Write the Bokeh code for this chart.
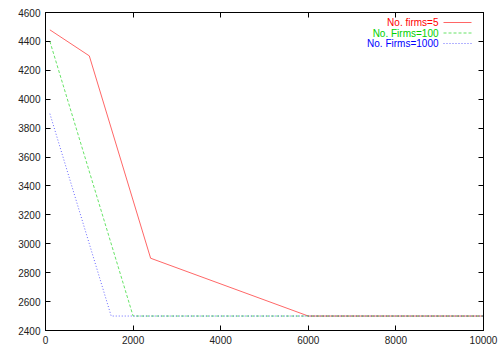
from bokeh.plotting import figure
from bokeh.models import LinearAxis, FixedTicker, Label, Arrow, Range1d
from bokeh.embed import file_html
from bokeh.resources import INLINE

# Data
x_firms5 = [100, 1000, 2400, 6000, 10000]
y_firms5 = [4480, 4300, 2900, 2500, 2500]
x_firms100 = [100, 2000, 10000]
y_firms100 = [4400, 2500, 2500]
x_firms1000 = [100, 1500, 10000]
y_firms1000 = [3900, 2500, 2500]
labels = ["No. firms=5", "No. Firms=100", "No. Firms=1000"]
colors = ["#ff0000", "#00d000", "#0000ff"]
dashes = ["solid", "3 2", "1 2"]
x_ticks = [0, 2000, 4000, 6000, 8000, 10000]
y_ticks = [2400, 2600, 2800, 3000, 3200, 3400, 3600, 3800, 4000, 4200, 4400, 4600]

FONT = "Liberation Sans"

p = figure(width=500, height=350, output_backend="svg", toolbar_location=None,
           x_range=Range1d(0, 10000), y_range=Range1d(2400, 4600),
           min_border_left=45, min_border_right=17, min_border_top=12, min_border_bottom=20)
p.background_fill_color = "white"
p.border_fill_color = "white"
p.outline_line_color = "black"
p.outline_line_width = 1
p.xgrid.visible = False
p.ygrid.visible = False

def style_axis(ax, ticks, show_labels=True):
    ax.ticker = FixedTicker(ticks=ticks)
    ax.major_tick_in = 5
    ax.major_tick_out = 0
    ax.minor_tick_line_color = None
    ax.axis_line_color = "black"
    ax.major_tick_line_color = "black"
    ax.major_label_text_font = FONT
    ax.major_label_text_font_size = "10px"
    ax.major_label_text_color = "#222222"
    ax.major_label_standoff = 5 if show_labels else 0
    if not show_labels:
        ax.major_label_overrides = {t: "" for t in ticks}

style_axis(p.xaxis[0], x_ticks)
style_axis(p.yaxis[0], y_ticks)
top = LinearAxis()
right = LinearAxis()
style_axis(top, x_ticks, False)
style_axis(right, y_ticks, False)
p.add_layout(top, "above")
p.add_layout(right, "right")

series = [(x_firms5, y_firms5), (x_firms100, y_firms100), (x_firms1000, y_firms1000)]
for (xs, ys), c, d in zip(series, colors, dashes):
    p.line(xs, ys, line_color=c, line_width=1, line_dash=d, line_alpha=0.6)

# legend (text right-aligned, sample line on the right)
row_y = [308, 297.5, 287]
for lab, c, d, yy in zip(labels, colors, dashes, row_y):
    p.add_layout(Label(x=393, y=yy, x_units="screen", y_units="screen", text=lab,
                       text_align="right", text_baseline="middle", text_color=c,
                       text_font=FONT, text_font_size="10px"))
    p.add_layout(Arrow(end=None, x_start=398, x_end=426, y_start=yy, y_end=yy,
                       start_units="screen", end_units="screen",
                       line_color=c, line_width=1, line_dash=d, line_alpha=0.6))

open("out.html", "w").write(file_html(p, INLINE))
